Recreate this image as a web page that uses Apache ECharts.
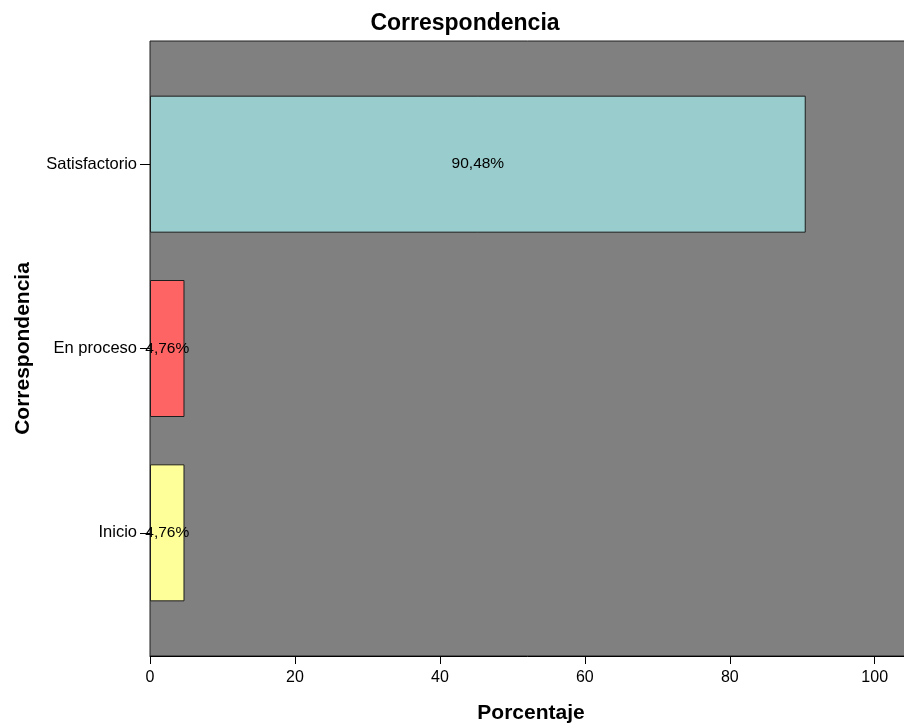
<!DOCTYPE html>
<html>
<head>
<meta charset="utf-8">
<script src="https://cdn.jsdelivr.net/npm/echarts@6/dist/echarts.min.js"></script>
<style>
  html, body { margin: 0; padding: 0; background: #ffffff; }
  #chart { width: 904px; height: 726px; }
</style>
</head>
<body>
<div id="chart"></div>
<script>
// Levels of "Correspondencia" (bottom to top) and their share in percent
const categories = ['Inicio', 'En proceso', 'Satisfactorio'];
const percentages = [4.76, 4.76, 90.48];
const barColors = ['#FFFF99', '#FF6464', '#99CCCC'];
const xTicks = { min: 0, max: 106.8, interval: 20 };

const font = '"Liberation Sans", Arial, Helvetica, sans-serif';
const fmtPct = v => v.toFixed(2).replace('.', ',') + '%';

const chart = echarts.init(document.getElementById('chart'), null, { renderer: 'canvas' });

chart.setOption({
  animation: false,
  backgroundColor: '#ffffff',
  title: {
    text: 'Correspondencia',
    left: 460,
    top: 7,
    textAlign: 'center',
    textStyle: { fontFamily: font, fontSize: 23, fontWeight: 'bold', color: '#000' }
  },
  grid: [
    // framed plotting area with the grey background (runs off the right edge)
    { left: 150, right: -20, top: 41, bottom: 70, show: true, outerBoundsMode: 'none',
      backgroundColor: '#808080', borderColor: '#1e1e1e', borderWidth: 1 },
    // inner band where the category bars sit
    { left: 150, right: -20, top: 72, bottom: 101, outerBoundsMode: 'none' }
  ],
  xAxis: [
    {
      gridIndex: 0, type: 'value',
      min: xTicks.min, max: xTicks.max, interval: xTicks.interval,
      name: 'Porcentaje', nameLocation: 'middle', nameGap: 47,
      nameTextStyle: { fontFamily: font, fontSize: 21, fontWeight: 'bold', color: '#000', padding: [0, 12, 0, 0] },
      axisLine: { show: true, lineStyle: { color: '#000', width: 1 } },
      axisTick: { show: true, length: 8, lineStyle: { color: '#000' } },
      axisLabel: {
        fontFamily: font, fontSize: 16, color: '#000', margin: 14,
        formatter: v => (v % 20 === 0 && v <= 100) ? String(v) : ''
      },
      splitLine: { show: false }
    },
    {
      gridIndex: 1, type: 'value',
      min: xTicks.min, max: xTicks.max, interval: xTicks.interval,
      show: false, splitLine: { show: false }
    }
  ],
  yAxis: [
    { gridIndex: 0, type: 'value', show: false, splitLine: { show: false } },
    {
      gridIndex: 1, type: 'category', data: categories,
      name: 'Correspondencia', nameLocation: 'middle', nameGap: 116, nameRotate: 90,
      nameTextStyle: { fontFamily: font, fontSize: 21, fontWeight: 'bold', color: '#000' },
      axisLine: { show: false },
      axisTick: { show: true, alignWithLabel: true, length: 10, lineStyle: { color: '#000' } },
      axisLabel: { fontFamily: font, fontSize: 16.5, color: '#000', margin: 13 },
      splitLine: { show: false }
    }
  ],
  series: [{
    type: 'bar',
    xAxisIndex: 1,
    yAxisIndex: 1,
    barWidth: 137,
    data: percentages.map((v, i) => ({ value: v, itemStyle: { color: barColors[i] } })),
    itemStyle: { borderColor: '#1e1e1e', borderWidth: 1 },
    label: {
      show: true, position: 'inside',
      fontFamily: font, fontSize: 15.5, color: '#000',
      formatter: p => fmtPct(p.value)
    }
  }]
});
</script>
</body>
</html>
